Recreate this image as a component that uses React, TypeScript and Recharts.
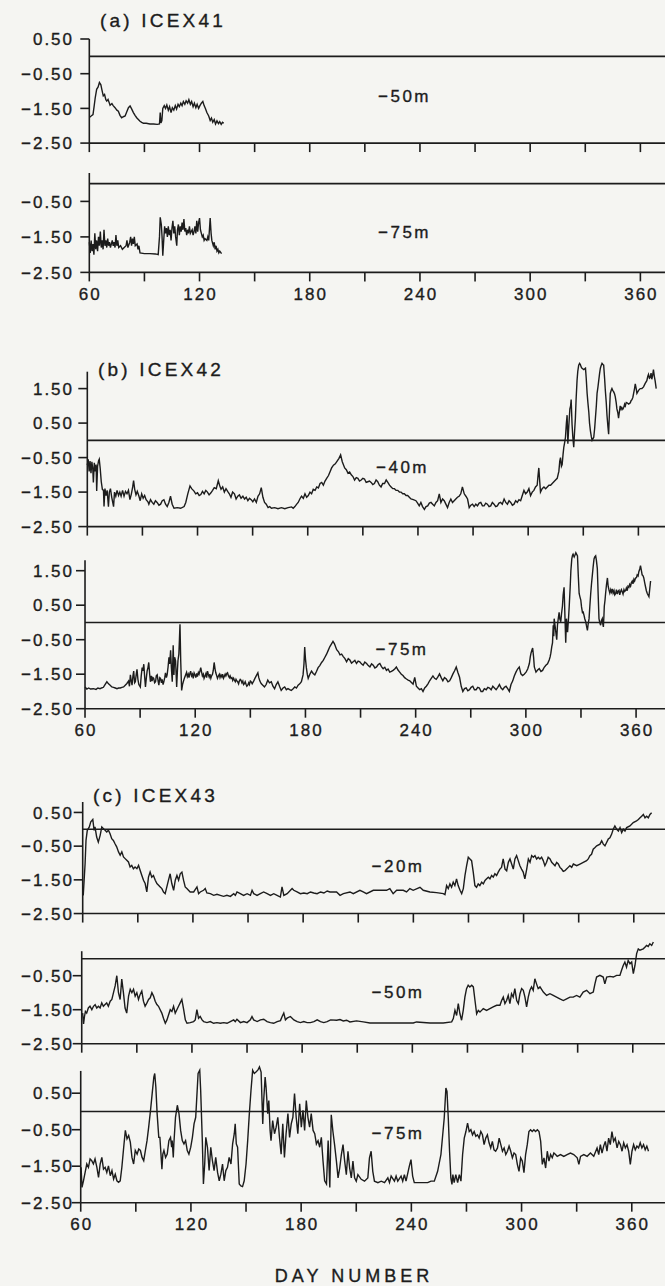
import React from 'react';
import { LineChart, Line, XAxis, YAxis, ReferenceLine } from 'recharts';

const PAGE_W = 665;
const PAGE_H = 1286;
const PAPER = '#f5f5f2';
const INK = '#1c1c1c';
const FONT = '"Liberation Sans", Arial, sans-serif';
const PX_PER_DAY = 1.837;
const Y_MIN = -2.5;
const Y_LABEL_RIGHT = 74;

const dayTicks = [60, 90, 120, 150, 180, 210, 240, 270, 300, 330, 360];
const dayLabels = [60, 120, 180, 240, 300, 360];
const tempTicks = [1.5, 0.5, -0.5, -1.5, -2.5];

// (a) ICEX41, -50m
const icex41_50m: [number, number][] = [
  [60.2, -1.75], [61, -1.72], [62, -1.68], [62.6, -1.45], [63.2, -1.2], [64, -0.95], [64.8, -0.88], [65.5, -0.75],
  [66.3, -0.82], [66.8, -0.95], [67.6, -1.14], [68.3, -1.1], [69, -1.25], [69.5, -1.29], [70.2, -1.24], [71.3, -1.41],
  [72.3, -1.36], [73, -1.42], [74, -1.48], [75, -1.55], [75.8, -1.58], [76.7, -1.7], [77.6, -1.77], [78.5, -1.74],
  [79.5, -1.72], [80.4, -1.6], [81.3, -1.48], [82.2, -1.43], [83.1, -1.52], [84, -1.62], [84.9, -1.7], [85.8, -1.77],
  [86.7, -1.82], [87.6, -1.87], [88.5, -1.9], [89.5, -1.93], [91, -1.93], [93, -1.95], [95, -1.95], [97, -1.96],
  [98.2, -1.95], [98.6, -1.62], [99, -1.92], [99.5, -1.85], [100, -1.5], [100.8, -1.42], [101.5, -1.5], [102.2, -1.4],
  [103, -1.55], [103.7, -1.45], [104.5, -1.62], [105.2, -1.48], [106, -1.55], [106.8, -1.42], [107.5, -1.52],
  [108.3, -1.38], [109, -1.45], [109.8, -1.35], [110.5, -1.42], [111.2, -1.3], [112, -1.38], [112.7, -1.28],
  [113.5, -1.35], [114.2, -1.25], [115, -1.38], [115.7, -1.3], [116.5, -1.45], [117.2, -1.35], [118, -1.48],
  [118.7, -1.38], [119.5, -1.5], [120.2, -1.42], [121, -1.35], [121.8, -1.3], [122.5, -1.42], [123.2, -1.5],
  [124, -1.62], [125, -1.72], [125.8, -1.85], [126.5, -1.78], [127.2, -1.9], [128, -1.82], [128.7, -1.95],
  [129.5, -1.86], [130.3, -1.94], [131, -1.88], [131.8, -1.96], [132.5, -1.9], [133.2, -1.93],
];

// (a) ICEX41, -75m
const icex41_75m: [number, number][] = [
  [60, -1.65], [60.5, -1.95], [61, -1.6], [61.5, -1.9], [62, -1.7], [62.5, -2.0], [63, -1.4], [63.5, -1.85],
  [64, -1.6], [64.5, -1.9], [65, -1.5], [65.5, -1.75], [66, -1.35], [66.5, -1.8], [67, -1.6], [67.5, -1.85],
  [68, -1.3], [68.5, -1.75], [69, -1.6], [69.5, -1.8], [70, -1.55], [70.5, -1.75], [71, -1.65], [71.5, -1.8],
  [72, -1.7], [72.5, -1.6], [73, -1.75], [73.5, -1.65], [74, -1.8], [74.5, -1.45], [75, -1.75], [75.5, -1.6],
  [76, -1.8], [77, -1.75], [78, -1.85], [79, -1.8], [80, -1.75], [80.5, -1.6], [81, -1.8], [82, -1.65],
  [82.5, -1.5], [83, -1.75], [83.5, -1.55], [84, -1.7], [84.5, -1.5], [85, -1.75], [86, -1.7], [86.5, -1.85],
  [87, -1.75], [87.6, -1.95], [90, -1.97], [93, -1.97], [96, -1.98], [97.5, -2.0], [98.2, -1.5], [98.6, -0.95],
  [99.2, -1.15], [99.6, -1.5], [100, -2.03], [100.5, -1.6], [101, -1.2], [101.5, -1.4], [102, -1.25], [102.5, -1.5],
  [103, -1.2], [103.5, -1.45], [104, -1.3], [104.5, -1.6], [105, -1.25], [105.5, -1.05], [106, -1.4], [106.5, -1.2],
  [107, -1.5], [107.6, -1.75], [108, -1.3], [108.5, -1.15], [109, -1.45], [109.5, -1.2], [110, -1.35], [110.5, -1.1],
  [111, -1.3], [111.5, -1.0], [112, -1.35], [112.5, -1.25], [113, -1.45], [113.5, -1.3], [114, -1.4], [114.5, -1.2],
  [115, -1.4], [116, -1.3], [116.5, -1.45], [117, -1.35], [117.5, -1.2], [118, -1.4], [118.5, -1.05], [119, -1.35],
  [119.5, -1.1], [120, -0.97], [120.5, -1.3], [121, -1.4], [121.5, -1.5], [122, -1.45], [122.5, -1.6], [123, -1.55],
  [124, -1.6], [124.5, -1.5], [125, -1.6], [125.8, -0.97], [126.3, -1.4], [126.7, -1.6], [127.5, -1.75], [128, -1.65],
  [128.5, -1.85], [129, -1.75], [129.5, -1.9], [130, -1.85], [130.5, -1.95], [131, -1.9], [132, -1.97],
];

// (b) ICEX42, -40m
const icex42_40m: [number, number][] = [
  [60, -0.72], [60.5, -0.55], [61, -0.9], [61.5, -0.6], [62, -0.95], [62.5, -0.62], [63, -0.85], [63.3, -1.22],
  [63.8, -0.65], [64.3, -0.9], [64.8, -0.7], [65.1, -1.47], [65.6, -0.75], [66.1, -0.6], [66.5, -0.55], [67, -0.8],
  [67.6, -1.2], [68.2, -1.42], [68.8, -1.45], [69.1, -1.92], [69.6, -1.4], [70.2, -1.6], [70.8, -1.45], [71.5, -1.92],
  [72, -1.5], [72.6, -1.4], [73.3, -1.65], [74.3, -1.92], [74.8, -1.5], [75.5, -1.62], [76.2, -1.45], [77, -1.6],
  [77.7, -1.5], [78.4, -1.62], [79.2, -1.45], [80, -1.62], [80.8, -1.48], [81.6, -1.55], [82.4, -1.45], [83.2, -1.72],
  [84, -1.55], [84.7, -1.35], [85.2, -1.17], [85.8, -1.42], [86.5, -1.58], [87.2, -1.48], [88, -1.6], [88.8, -1.75],
  [89.6, -1.55], [90.4, -1.68], [91.2, -1.6], [92, -1.72], [93, -1.78], [93.5, -1.85], [94.4, -1.72], [95.3, -1.8],
  [96.2, -1.85], [97.1, -1.75], [98, -1.8], [99, -1.88], [99.9, -1.85], [100.8, -1.75], [101.7, -1.72], [102.6, -1.85],
  [103.5, -1.92], [104.4, -1.8], [105.3, -1.62], [106.2, -1.85], [107.2, -1.97], [109, -1.95], [110.8, -1.97],
  [112.7, -1.92], [113.6, -1.8], [114.7, -1.55], [115.9, -1.32], [116.8, -1.4], [118.1, -1.47], [119, -1.55],
  [120, -1.52], [120.9, -1.6], [121.8, -1.57], [122.7, -1.48], [123.6, -1.55], [124.5, -1.45], [125.4, -1.5],
  [126.3, -1.58], [127.3, -1.52], [128.2, -1.45], [129.1, -1.37], [130.2, -1.4], [131.3, -1.17], [132, -1.3],
  [132.8, -1.42], [133.7, -1.35], [134.6, -1.5], [135.5, -1.4], [136.4, -1.48], [137.3, -1.55], [138.2, -1.65],
  [139.1, -1.5], [140.1, -1.55], [141, -1.7], [141.9, -1.62], [142.8, -1.58], [143.7, -1.68], [144.7, -1.62],
  [145.6, -1.7], [146.5, -1.65], [147.4, -1.75], [148.3, -1.68], [149.2, -1.72], [150.1, -1.78], [151, -1.7],
  [152, -1.8], [152.9, -1.62], [153.8, -1.55], [154.7, -1.37], [155.6, -1.65], [156.5, -1.8], [157.4, -1.85],
  [158.4, -1.95], [159.3, -1.92], [160.2, -1.97], [162, -1.95], [163.8, -1.98], [165.7, -1.95], [167.5, -1.98],
  [169.3, -1.95], [171.2, -1.93], [172.1, -1.97], [173, -1.92], [174, -1.85], [174.8, -1.8], [175.7, -1.7],
  [176.6, -1.62], [177.6, -1.68], [178.5, -1.55], [179.4, -1.65], [180.3, -1.6], [181.2, -1.5], [182.1, -1.55],
  [183, -1.42], [184, -1.45], [184.9, -1.35], [185.8, -1.38], [186.7, -1.25], [187.6, -1.22], [188.5, -1.3],
  [189.4, -1.18], [190.3, -1.1], [191.3, -1.02], [192.2, -0.9], [193, -0.8], [194, -0.72], [195, -0.68], [196, -0.6],
  [197, -0.52], [197.9, -0.42], [198.8, -0.62], [200.1, -0.8], [201, -0.85], [201.9, -0.95], [202.8, -0.92],
  [203.7, -1.0], [204.6, -1.05], [205.5, -1.15], [206.4, -1.08], [207.3, -1.1], [208.2, -1.18], [209.1, -1.15],
  [210, -1.1], [210.9, -1.12], [211.8, -1.22], [212.7, -1.2], [213.6, -1.18], [214.5, -1.22], [215.4, -1.28],
  [216.3, -1.25], [217.2, -1.15], [218.1, -1.2], [219, -1.3], [219.9, -1.35], [220.8, -1.25], [221.8, -1.25],
  [222.7, -1.15], [223.6, -1.22], [224.5, -1.3], [225.4, -1.35], [226.3, -1.4], [227.2, -1.4], [228.1, -1.45],
  [229, -1.45], [229.9, -1.5], [230.8, -1.5], [231.7, -1.55], [232.6, -1.55], [233.5, -1.6], [234.4, -1.6],
  [235.3, -1.65], [236.2, -1.7], [237.5, -1.72], [238.9, -1.75], [239.8, -1.82], [240.7, -1.9], [241.6, -1.8],
  [242.5, -1.92], [243.5, -2.0], [244.4, -1.92], [245.3, -1.9], [246.2, -1.82], [247.1, -1.8], [248, -1.85],
  [248.9, -1.9], [249.8, -1.8], [250.7, -1.75], [251.6, -1.55], [252.5, -1.8], [253.4, -1.7], [254.3, -1.75],
  [255.2, -1.85], [256.1, -1.95], [257, -1.8], [257.9, -1.7], [258.8, -1.8], [259.7, -1.75], [260.6, -1.7],
  [261.5, -1.65], [262.4, -1.62], [263.3, -1.55], [264.2, -1.35], [265.2, -1.55], [266.1, -1.62], [267, -1.7],
  [267.9, -1.95], [268.8, -1.88], [269.7, -1.85], [270.6, -1.92], [271.5, -1.85], [272.4, -1.9], [273.3, -1.82],
  [274.2, -1.8], [275.1, -1.9], [276, -1.9], [276.9, -1.82], [277.8, -1.85], [278.7, -1.92], [279.6, -1.9],
  [280.5, -1.8], [281.4, -1.85], [282.3, -1.92], [283.2, -1.9], [284.1, -1.82], [285, -1.8], [285.9, -1.85],
  [286.9, -1.7], [287.8, -1.8], [288.7, -1.85], [289.6, -1.75], [290.5, -1.8], [291.4, -1.88], [292.3, -1.85],
  [293.2, -1.75], [294.1, -1.8], [295, -1.72], [295.9, -1.75], [296.8, -1.6], [297.7, -1.45], [298.6, -1.55],
  [299.5, -1.5], [300.4, -1.4], [301.3, -1.6], [302.2, -1.5], [303.1, -1.45], [304, -1.35], [304.9, -1.3],
  [305.4, -1.0], [305.8, -0.8], [306.3, -1.2], [306.7, -1.5], [307.6, -1.4], [308.6, -1.35], [309.5, -1.4],
  [310.4, -1.35], [311.3, -1.3], [312.2, -1.3], [313.1, -1.25], [314, -1.2], [314.9, -1.15], [315.8, -1.1],
  [316.7, -0.9], [317.2, -0.6], [317.6, -0.5], [318.1, -0.75], [318.5, -0.7], [319, -0.4], [319.4, -0.2],
  [319.9, -0.05], [320.3, 0.09], [320.8, 0.5], [321.2, 0.73], [321.6, -0.1], [322.1, 0.4], [322.7, 0.91],
  [323.1, 1.0], [323.4, 1.18], [323.9, 0.45], [324.3, 0.1], [324.8, -0.2], [325.2, 0.2], [325.7, 0.64],
  [326.1, 1.2], [326.6, 1.73], [327, 2.0], [327.5, 2.18], [328, 2.23], [328.4, 2.2], [328.9, 2.12], [329.3, 2.09],
  [330.3, 2.05], [331.2, 2.09], [331.6, 1.8], [332.1, 1.36], [332.5, 1.1], [333, 0.82], [333.4, 0.5], [333.9, 0.27],
  [334.4, 0.1], [334.8, 0.0], [335.3, 0.05], [335.7, 0.09], [336.2, 0.35], [336.6, 0.64], [337.1, 1.0],
  [337.5, 1.36], [338, 1.55], [338.4, 1.73], [338.9, 1.95], [339.3, 2.09], [339.8, 2.18], [340.2, 2.23],
  [340.7, 2.2], [341.1, 2.18], [341.6, 1.8], [342, 1.45], [342.5, 1.1], [342.9, 0.73], [343.4, 0.4], [343.8, 0.18],
  [344.3, 0.9], [344.7, 1.36], [345.2, 1.45], [345.6, 1.5], [346, 1.45], [346.5, 1.41], [347, 1.35], [347.4, 1.27],
  [347.9, 1.1], [348.3, 0.91], [348.8, 0.8], [349.2, 0.64], [349.7, 0.85], [350.1, 1.0], [350.6, 0.9], [351, 0.95],
  [351.5, 0.9], [352, 0.95], [352.5, 1.05], [352.9, 1.0], [353.4, 1.1], [353.8, 1.09], [354.7, 1.05], [355.6, 1.09],
  [356, 1.15], [356.5, 1.18], [357, 1.25], [357.4, 1.36], [357.9, 1.5], [358.3, 1.64], [358.8, 1.5], [359.2, 1.36],
  [360.1, 1.45], [361, 1.5], [361.9, 1.5], [362.8, 1.55], [363.7, 1.65], [364.6, 1.73], [365.1, 1.85], [365.5, 1.91],
  [366, 1.8], [366.4, 1.82], [366.9, 1.95], [367.3, 1.77], [367.8, 1.9], [368.2, 2.05], [368.7, 1.85], [369.1, 1.73],
  [369.7, 1.5],
];

// (b) ICEX42, -75m
const icex42_75m: [number, number][] = [
  [60, -1.87], [61, -1.93], [62, -1.9], [63, -1.93], [64.6, -1.92], [66, -1.94], [67, -1.9], [68.2, -1.92],
  [69, -1.9], [70, -1.88], [70.9, -1.8], [71.9, -1.72], [72.8, -1.78], [73.7, -1.82], [74.6, -1.87], [75.5, -1.88],
  [76.5, -1.9], [77.4, -1.92], [78.3, -1.9], [79.2, -1.9], [80.1, -1.88], [81, -1.87], [81.9, -1.82], [82.8, -1.77],
  [83.7, -1.7], [84.2, -1.85], [84.7, -1.52], [85.2, -1.7], [85.6, -1.82], [86.1, -1.55], [86.5, -1.41], [87, -1.75],
  [87.4, -1.72], [87.9, -1.5], [88.3, -1.36], [88.8, -1.65], [89.3, -1.8], [90.1, -1.87], [90.6, -1.55], [91.1, -1.31],
  [91.5, -1.4], [92, -1.21], [92.5, -1.6], [92.9, -1.87], [93.4, -1.6], [93.8, -1.41], [94.3, -1.3], [94.7, -1.16],
  [95.2, -1.5], [95.6, -1.72], [96.1, -1.55], [96.5, -1.7], [97, -1.6], [97.4, -1.62], [97.9, -1.75], [98.4, -1.72],
  [98.8, -1.55], [99.3, -1.52], [99.8, -1.7], [100.2, -1.82], [100.7, -1.6], [101.1, -1.62], [101.6, -1.75],
  [102, -1.65], [102.5, -1.8], [102.9, -1.72], [103.4, -1.6], [103.8, -1.46], [104.3, -1.6], [104.7, -1.52],
  [105.2, -1.3], [105.7, -1.01], [106.1, -1.2], [106.6, -0.81], [107, -1.3], [107.5, -1.72], [108, -0.66],
  [108.4, -1.52], [108.8, -1.01], [109.3, -1.11], [109.9, -1.87], [110.3, -1.4], [110.6, -1.11], [111.1, -0.91],
  [111.4, -0.5], [111.7, -0.05], [112.1, -1.11], [112.6, -1.97], [113.1, -1.8], [113.5, -1.72], [114.2, -1.6],
  [114.8, -1.52], [115.3, -1.45], [115.7, -1.57], [116.2, -1.5], [116.6, -1.6], [117.1, -1.48], [117.5, -1.41],
  [118, -1.55], [118.5, -1.5], [118.9, -1.62], [119.4, -1.46], [119.9, -1.52], [120.3, -1.6], [120.8, -1.48],
  [121.2, -1.57], [121.7, -1.45], [122.1, -1.5], [122.6, -1.4], [123, -1.31], [123.5, -1.45], [123.9, -1.55],
  [124.4, -1.5], [124.8, -1.62], [125.3, -1.55], [125.8, -1.48], [126.2, -1.6], [126.7, -1.41], [127.1, -1.5],
  [127.6, -1.58], [128, -1.5], [128.5, -1.62], [128.9, -1.55], [129.4, -1.5], [129.8, -1.4], [130.3, -1.16],
  [130.8, -1.35], [131.2, -1.46], [131.7, -1.55], [132.1, -1.62], [132.6, -1.55], [133.1, -1.5], [133.5, -1.6],
  [134, -1.52], [134.5, -1.58], [134.9, -1.5], [135.4, -1.62], [135.8, -1.57], [136.3, -1.5], [136.7, -1.55],
  [137.2, -1.48], [137.6, -1.46], [138.1, -1.55], [138.6, -1.6], [139, -1.55], [139.5, -1.62], [140, -1.6],
  [140.4, -1.68], [140.9, -1.62], [141.3, -1.67], [141.8, -1.72], [142.2, -1.65], [142.7, -1.7], [143.1, -1.72],
  [143.6, -1.78], [144, -1.7], [144.5, -1.65], [144.9, -1.67], [145.4, -1.75], [145.9, -1.7], [146.3, -1.8],
  [146.8, -1.77], [147.2, -1.72], [147.7, -1.8], [148.1, -1.85], [148.6, -1.82], [149.1, -1.75], [149.5, -1.8],
  [150, -1.7], [150.4, -1.72], [151, -1.78], [151.8, -1.7], [152.5, -1.62], [153.2, -1.55], [154.1, -1.46],
  [154.6, -1.6], [155.2, -1.7], [155.9, -1.77], [156.8, -1.82], [157.7, -1.87], [158.6, -1.8], [159.5, -1.67],
  [160.4, -1.75], [161.4, -1.72], [162.3, -1.85], [163.2, -1.92], [164.1, -1.8], [165, -1.72], [165.9, -1.85],
  [166.8, -1.97], [167.8, -1.9], [168.7, -1.87], [169.6, -1.95], [170.5, -1.92], [171.4, -1.95], [172.3, -1.97],
  [173.3, -1.92], [174.2, -1.87], [175.1, -1.9], [176, -1.82], [176.9, -1.78], [177.8, -1.72], [178.7, -1.52],
  [179.2, -1.2], [179.6, -0.71], [180, -1.05], [180.5, -1.31], [181, -1.5], [181.5, -1.62], [182.4, -1.5],
  [183.3, -1.41], [184.2, -1.48], [185.1, -1.52], [186, -1.42], [186.9, -1.31], [187.8, -1.25], [188.8, -1.16],
  [189.7, -1.1], [190.6, -1.01], [191.5, -0.92], [192.4, -0.81], [193.3, -0.7], [194.2, -0.62], [195, -0.55],
  [195.8, -0.62], [197, -0.79], [198, -0.85], [198.8, -0.94], [199.7, -0.92], [200.6, -0.99], [201.5, -1.05],
  [202.4, -1.14], [203.3, -1.05], [204.2, -1.09], [205.1, -1.18], [206, -1.14], [206.9, -1.1], [207.8, -1.19],
  [208.7, -1.12], [209.6, -1.14], [210.5, -1.2], [211.4, -1.24], [212.3, -1.15], [213.3, -1.19], [214.2, -1.25],
  [215.1, -1.29], [216, -1.2], [216.9, -1.24], [217.8, -1.32], [218.7, -1.29], [219.6, -1.22], [220.5, -1.19],
  [221.4, -1.28], [222.3, -1.34], [223.2, -1.3], [224.1, -1.39], [225, -1.35], [225.9, -1.44], [226.8, -1.42],
  [227.7, -1.39], [228.6, -1.35], [229.5, -1.29], [230.4, -1.38], [231.3, -1.44], [232.2, -1.5], [233.1, -1.54],
  [234, -1.6], [235, -1.64], [235.9, -1.67], [236.8, -1.69], [237.7, -1.74], [238.6, -1.79], [239.5, -1.59],
  [240.4, -1.85], [241.3, -1.9], [242.2, -1.95], [243.1, -1.92], [244, -2.0], [244.9, -1.9], [245.8, -1.85],
  [246.7, -1.78], [247.6, -1.69], [248.5, -1.62], [249.4, -1.55], [250.3, -1.62], [251.2, -1.65], [252.1, -1.58],
  [253, -1.49], [253.9, -1.6], [254.8, -1.69], [255.7, -1.6], [256.7, -1.64], [257.6, -1.72], [258.5, -1.69],
  [259.4, -1.6], [260.3, -1.49], [261.2, -1.4], [262.1, -1.29], [263, -1.45], [263.9, -1.59], [264.8, -1.85],
  [265.7, -2.0], [266.6, -1.92], [267.5, -1.9], [268.4, -1.98], [269.3, -1.95], [270.2, -1.88], [271.1, -1.85],
  [272, -1.95], [272.9, -1.95], [273.8, -1.88], [274.7, -1.9], [275.6, -2.0], [276.5, -2.0], [277.4, -1.92],
  [278.4, -1.95], [279.3, -1.88], [280.2, -1.9], [281.1, -1.95], [282, -1.85], [282.9, -1.9], [283.8, -1.95],
  [284.7, -1.88], [285.6, -1.8], [286.5, -1.9], [287.4, -1.95], [288.3, -1.88], [289.2, -1.85], [290.1, -1.92],
  [291, -2.0], [291.9, -1.8], [292.8, -1.7], [293.7, -1.55], [294.6, -1.44], [295.5, -1.35], [296.4, -1.29],
  [297.3, -1.49], [298.2, -1.54], [299.1, -1.5], [300.1, -1.44], [301, -1.35], [301.9, -1.19], [302.4, -1.0],
  [302.8, -0.89], [303.3, -0.8], [303.7, -0.74], [304.2, -1.0], [304.6, -1.29], [305.5, -1.44], [306.4, -1.38],
  [307.3, -1.34], [308.2, -1.42], [309.1, -1.39], [310, -1.3], [310.9, -1.24], [311.8, -1.2], [312.7, -1.09],
  [313.2, -1.0], [313.6, -0.89], [314.1, -0.7], [314.5, -0.59], [314.9, -0.08], [315.2, -0.4], [315.4, 0.11],
  [315.9, -0.1], [316.3, -0.28], [316.8, -0.5], [317.2, -0.08], [317.6, 0.1], [318.1, 0.29], [318.5, 0.1],
  [319, 0.02], [319.4, 0.25], [319.9, 0.47], [320.3, 0.8], [320.8, 1.02], [321.2, 0.3], [321.7, -0.59],
  [322.1, 0.11], [322.4, -0.1], [322.7, -0.28], [323.2, 0.1], [323.6, 0.47], [324.1, 1.0], [324.5, 1.5],
  [325, 1.84], [325.4, 1.95], [325.7, 1.98], [326.3, 1.9], [326.7, 1.95], [327.2, 2.02], [327.6, 1.98],
  [328.1, 1.93], [328.5, 1.4], [329, 0.84], [329.4, 0.75], [329.9, 0.65], [330.3, 0.45], [330.8, 0.29],
  [331.2, 0.3], [331.7, 0.2], [332.1, 0.1], [332.6, 0.02], [333, -0.1], [333.5, -0.23], [333.9, -0.05],
  [334.4, 0.11], [334.8, 0.45], [335.3, 0.84], [335.7, 1.1], [336.2, 1.38], [336.6, 1.6], [337.1, 1.84],
  [337.5, 1.9], [338, 1.93], [338.4, 1.8], [338.9, 1.56], [339.3, 0.9], [339.8, 0.11], [340.2, 0.0],
  [340.7, -0.08], [341.1, 0.05], [341.6, 0.11], [341.9, -0.05], [342.2, -0.13], [342.5, 0.2], [342.7, 0.47],
  [343.1, 0.65], [343.4, 0.84], [343.9, 1.1], [344.4, 1.29], [344.8, 1.05], [345.3, 0.93], [345.7, 0.85],
  [346.2, 0.95], [346.6, 0.88], [347.1, 0.97], [347.5, 0.85], [348, 0.92], [348.4, 0.8], [348.9, 0.84],
  [349.3, 0.95], [349.8, 0.82], [350.2, 0.9], [350.7, 0.93], [351.1, 0.8], [351.6, 0.9], [352, 0.95],
  [352.5, 0.88], [352.9, 0.82], [353.4, 0.95], [353.8, 0.9], [354.3, 0.93], [354.7, 1.0], [355.2, 0.92],
  [355.6, 1.05], [356.1, 1.02], [356.5, 1.1], [357, 1.05], [357.4, 1.15], [357.9, 1.2], [358.3, 1.12],
  [358.8, 1.25], [359.2, 1.2], [359.7, 1.29], [360.2, 1.3], [360.6, 1.38], [361.1, 1.35], [361.5, 1.47],
  [362, 1.55], [362.4, 1.65], [362.9, 1.5], [363.3, 1.38], [363.8, 1.35], [364.2, 1.29], [364.7, 1.15],
  [365.2, 1.02], [365.6, 0.92], [366.1, 0.84], [366.5, 0.8], [367, 0.75], [367.4, 0.95], [367.9, 1.2],
];

// (c) ICEX43, -20m
const icex43_20m: [number, number][] = [
  [60.3, -1.96], [61.3, -1.02], [61.8, -0.33], [62.5, -0.03], [63.6, 0.07], [64.4, 0.22], [65.5, 0.29],
  [66.2, -0.03], [66.7, 0.07], [67.6, -0.23], [68.5, -0.38], [69.5, -0.18], [70.4, 0.07], [71.3, 0.02],
  [72.2, -0.03], [73.1, -0.08], [74, -0.03], [74.9, -0.13], [75.8, -0.28], [76.7, -0.33], [77.6, -0.43],
  [78.5, -0.52], [79.5, -0.67], [80.4, -0.77], [81.3, -0.67], [82.2, -0.82], [83.1, -0.87], [84, -0.92],
  [84.9, -0.97], [85.8, -1.12], [86.7, -1.07], [87.6, -1.17], [88.5, -1.12], [89.5, -1.17], [90.4, -1.07],
  [91.3, -1.22], [92.2, -1.37], [93.1, -1.51], [94, -1.61], [94.9, -1.86], [95.8, -1.42], [96.7, -1.27],
  [97.6, -1.42], [98.5, -1.37], [99.5, -1.51], [100.4, -1.61], [101.3, -1.66], [102.2, -1.71], [103.1, -1.76],
  [104, -1.86], [104.9, -1.91], [105.8, -1.71], [106.7, -1.51], [107.6, -1.32], [108.5, -1.61], [109.5, -1.81],
  [110.4, -1.51], [111.3, -1.37], [112.2, -1.51], [113.1, -1.32], [114, -1.27], [114.9, -1.51], [115.8, -1.71],
  [116.7, -1.76], [117.6, -1.81], [118.5, -1.86], [120.4, -1.86], [122.2, -1.71], [123.1, -1.91], [124, -1.86],
  [125.8, -1.81], [126.7, -1.76], [127.6, -1.89], [129.5, -1.91], [131.3, -1.96], [133.1, -1.93], [134.9, -1.96],
  [136.7, -1.99], [138.5, -1.96], [140.4, -1.99], [142.2, -1.91], [143.1, -1.96], [144, -1.86], [145.8, -1.91],
  [147.6, -1.96], [149.5, -1.91], [151.3, -1.96], [152.2, -1.81], [153.1, -1.91], [154.9, -1.96], [156.7, -1.91],
  [158.5, -1.86], [160.4, -1.91], [162.2, -1.96], [164, -1.91], [165.8, -1.96], [167.6, -2.01], [168.5, -1.71],
  [169.5, -1.96], [171.3, -1.91], [173.1, -1.81], [174, -1.76], [174.9, -1.81], [176.7, -1.86], [178.5, -1.91],
  [180.4, -1.89], [182.2, -1.91], [184, -1.86], [185.8, -1.89], [187.6, -1.91], [189.5, -1.86], [191.3, -1.89],
  [193.1, -1.83], [194.6, -1.86], [198.2, -1.86], [200.1, -1.96], [201.9, -1.91], [205.5, -1.86], [207.3, -1.91],
  [210.9, -1.81], [212.7, -1.86], [214.5, -1.91], [218.2, -1.81], [221.8, -1.81], [225.4, -1.81], [227.2, -1.76],
  [229, -1.91], [230.9, -1.81], [234.5, -1.81], [236.3, -1.86], [238.1, -1.76], [239.9, -1.81], [243.6, -1.72],
  [245.4, -1.81], [249, -1.86], [252.6, -1.88], [256.3, -1.91], [257.2, -1.94], [258.1, -1.67], [259, -1.76],
  [259.9, -1.62], [260.8, -1.72], [261.7, -1.57], [262.6, -1.67], [263.5, -1.47], [264.4, -1.67], [265.4, -1.81],
  [266.3, -1.91], [267.2, -1.76], [268.1, -1.37], [269, -1.08], [269.9, -0.83], [270.8, -0.88], [271.7, -0.93],
  [272.6, -1.27], [273.5, -1.67], [274.4, -1.72], [275.3, -1.62], [276.2, -1.67], [277.2, -1.57], [278.1, -1.62],
  [279, -1.52], [279.9, -1.47], [280.8, -1.42], [281.7, -1.47], [282.6, -1.37], [283.5, -1.42], [284.4, -1.32],
  [285.3, -1.37], [286.2, -1.27], [287.1, -1.18], [288, -1.13], [288.9, -0.88], [289.9, -1.18], [290.8, -1.23],
  [291.7, -0.98], [292.6, -0.88], [293.5, -1.03], [294.4, -1.18], [295.3, -0.88], [296.2, -0.78], [297.1, -0.93],
  [298, -1.08], [298.9, -1.18], [299.8, -1.27], [300.7, -1.47], [301.7, -1.18], [302.6, -0.88], [303.5, -0.98],
  [304.4, -0.78], [305.3, -0.83], [306.2, -0.78], [307.1, -0.88], [308, -0.83], [308.9, -0.88], [309.8, -0.83],
  [310.7, -0.93], [311.6, -1.08], [312.5, -0.98], [313.4, -0.83], [314.4, -0.88], [315.3, -0.98], [316.2, -1.03],
  [317.1, -1.08], [318, -0.98], [318.9, -1.03], [319.8, -1.13], [320.7, -1.18], [321.6, -1.25], [322.5, -1.23],
  [323.4, -1.18], [324.3, -1.13], [325.2, -1.08], [326.2, -1.13], [327.1, -1.03], [328.9, -1.08], [330.7, -1.03],
  [332.5, -0.98], [334.3, -0.93], [335.2, -0.88], [336.1, -0.78], [337, -0.74], [337.9, -0.59], [338.9, -0.54],
  [339.8, -0.49], [341.6, -0.44], [342.5, -0.34], [343.4, -0.44], [344.3, -0.49], [345.2, -0.39], [346.1, -0.29],
  [347, -0.25], [347.9, -0.15], [348.8, 0.0], [349.7, 0.1], [350.7, 0.0], [351.6, -0.05], [352.5, 0.05],
  [353.4, -0.1], [354.3, 0.0], [355.2, -0.05], [356.1, 0.05], [357.9, 0.1], [359.7, 0.2], [361.5, 0.25],
  [362.5, 0.29], [363.4, 0.34], [364.3, 0.39], [365.2, 0.44], [366.1, 0.34], [367, 0.39], [367.9, 0.34],
  [368.8, 0.44], [369.7, 0.49],
];

// (c) ICEX43, -50m
const icex43_50m: [number, number][] = [
  [60.5, -1.6], [61, -1.92], [61.5, -1.7], [62, -1.55], [62.7, -1.6], [63.6, -1.45], [64.5, -1.4], [65.5, -1.5],
  [66.4, -1.4], [67.3, -1.35], [68.2, -1.45], [69.1, -1.4], [70, -1.45], [70.9, -1.3], [71.8, -1.4], [72.7, -1.35],
  [73.6, -1.3], [74.5, -1.4], [75.5, -1.25], [76.4, -1.2], [77.3, -1.0], [78.2, -0.8], [79.1, -0.5], [80, -1.0],
  [80.9, -1.2], [81.8, -0.6], [82.7, -1.0], [83.6, -1.45], [84.5, -1.6], [85.5, -1.1], [86.4, -0.9], [87.3, -1.0],
  [88.2, -0.9], [89.1, -1.1], [90, -1.0], [90.9, -1.2], [91.8, -1.05], [92.7, -0.95], [93.6, -1.25], [94.5, -1.4],
  [95.5, -1.3], [96.4, -1.2], [97.3, -1.15], [98.2, -1.0], [99.1, -1.1], [100, -1.25], [100.9, -1.35], [101.8, -1.4],
  [102.7, -1.5], [103.6, -1.6], [104.5, -1.75], [105.5, -1.9], [106.4, -1.8], [107.3, -1.65], [108.2, -1.5],
  [109.1, -1.55], [110, -1.4], [110.9, -1.6], [111.8, -1.5], [112.7, -1.4], [113.6, -1.3], [114.5, -1.2],
  [115.5, -1.5], [116.4, -1.8], [117.3, -1.9], [119.1, -1.88], [120.9, -1.85], [121.8, -1.8], [122.7, -1.5],
  [123.6, -1.75], [124.5, -1.7], [125.5, -1.8], [126.4, -1.85], [128.2, -1.88], [130, -1.85], [131.8, -1.9],
  [133.6, -1.88], [135.5, -1.9], [137.3, -1.88], [139.1, -1.9], [140.9, -1.85], [142.7, -1.8], [143.6, -1.85],
  [144.5, -1.78], [146.4, -1.88], [148.2, -1.85], [150, -1.88], [151.8, -1.8], [152.7, -1.7], [153.6, -1.8],
  [155.5, -1.85], [157.3, -1.8], [159.1, -1.78], [160.9, -1.85], [162.7, -1.88], [164.5, -1.9], [166.4, -1.85],
  [168.2, -1.82], [169.1, -1.7], [170, -1.6], [170.9, -1.8], [171.8, -1.75], [173.6, -1.7], [175.5, -1.8],
  [177.3, -1.85], [179.1, -1.88], [180.9, -1.85], [182.7, -1.88], [184.5, -1.88], [186.4, -1.85], [188.2, -1.8],
  [190, -1.85], [191.8, -1.88], [193.6, -1.85], [195.5, -1.8], [198.8, -1.81], [200.6, -1.79], [202.4, -1.83],
  [204.2, -1.81], [206, -1.86], [209.6, -1.83], [213.3, -1.86], [216.9, -1.89], [222.3, -1.89], [231.4, -1.89],
  [240.5, -1.89], [242.3, -1.86], [249.6, -1.89], [256.8, -1.89], [261.4, -1.86], [262.3, -1.76], [263.2, -1.52],
  [264.1, -1.67], [265, -1.32], [265.9, -1.62], [266.8, -1.81], [267.7, -1.52], [268.6, -1.13], [269.5, -0.88],
  [270.4, -0.78], [271.3, -0.83], [272.3, -0.78], [273.2, -0.83], [274.1, -1.23], [275, -1.62], [275.9, -1.52],
  [276.8, -1.57], [277.7, -1.52], [278.6, -1.47], [280.4, -1.52], [282.2, -1.47], [284, -1.42], [285.9, -1.37],
  [287.7, -1.37], [288.6, -1.23], [289.5, -1.13], [290.4, -1.32], [291.3, -1.23], [292.2, -1.08], [293.1, -1.32],
  [294, -1.03], [294.9, -1.13], [295.8, -0.88], [296.8, -1.23], [297.7, -1.32], [298.6, -1.03], [299.5, -0.88],
  [300.4, -0.93], [301.3, -1.13], [302.2, -1.42], [303.1, -1.13], [304, -0.93], [304.9, -0.83], [305.8, -0.93],
  [306.7, -0.59], [307.6, -0.74], [308.5, -0.88], [309.5, -0.83], [311.3, -0.98], [313.1, -1.08], [314.9, -1.03],
  [316.7, -1.08], [318.5, -1.13], [320.3, -1.18], [322.2, -1.23], [324, -1.18], [325.8, -1.13], [327.6, -1.13],
  [329.4, -1.08], [331.2, -1.13], [333, -0.98], [334.9, -0.93], [336.7, -1.03], [338.5, -0.98], [339.4, -0.74],
  [340.3, -0.54], [342.1, -0.49], [343.9, -0.54], [344.8, -0.74], [345.8, -0.54], [347.6, -0.52], [349.4, -0.54],
  [351.2, -0.49], [353, -0.49], [353.9, -0.34], [354.8, -0.2], [355.7, -0.1], [356.6, -0.25], [357.5, -0.05],
  [358.5, -0.15], [359.4, -0.1], [360.3, -0.44], [361.2, -0.2], [362.1, 0.15], [363, 0.29], [363.9, 0.25],
  [365.7, 0.29], [366.6, 0.34], [367.5, 0.39], [368.4, 0.36], [369.3, 0.44], [370.3, 0.39], [371.2, 0.49],
];

// (c) ICEX43, -75m
const icex43_75m: [number, number][] = [
  [60.2, -1.53], [60.7, -2.08], [61.5, -1.9], [62.4, -1.67], [63.3, -1.44], [64.2, -1.53], [65.1, -1.3],
  [66, -1.35], [66.9, -1.44], [67.8, -1.3], [68.8, -1.53], [69.7, -1.81], [70.6, -1.44], [71.5, -1.26],
  [72.4, -1.58], [73.3, -1.53], [74.2, -1.67], [75.1, -1.49], [76.1, -1.76], [77, -1.62], [77.9, -1.85],
  [78.8, -1.72], [79.7, -1.9], [80.6, -1.94], [81.5, -1.9], [82.4, -1.53], [83.4, -0.98], [84.3, -0.52],
  [85.2, -0.75], [86.1, -0.66], [87, -0.84], [87.9, -1.26], [88.8, -1.44], [89.7, -1.07], [90.7, -1.17],
  [91.6, -1.03], [92.5, -1.07], [93.4, -1.26], [94.3, -1.35], [95.2, -1.07], [96.1, -0.8], [97, -0.43],
  [98, 0.03], [98.9, 0.49], [99.8, 0.94], [100.3, 1.04], [100.9, 0.67], [101.6, -0.06], [102.5, -0.71],
  [103.1, -0.71], [103.4, -0.94], [104.2, -1.58], [104.7, -1.17], [105.3, -1.07], [106.2, -1.26], [107.1, -1.17],
  [108, -0.8], [108.9, -0.71], [109.5, -0.98], [109.8, -0.8], [110.4, -1.26], [110.7, -0.89], [111.6, -0.16],
  [112.6, 0.17], [113.5, -0.06], [114.4, -0.52], [115.3, -0.8], [116.2, -0.89], [117.1, -0.8], [118, -1.07],
  [118.9, -1.17], [119.9, -0.98], [120.8, -0.71], [121.7, -0.34], [122.6, -0.16], [123.1, 0.3], [123.9, 1.04],
  [124.8, 1.13], [125.3, 0.58], [126.2, -0.8], [126.8, -1.99], [127.5, -1.44], [128.1, -0.71], [129, -0.98],
  [129.9, -1.62], [130.8, -0.98], [131.7, -1.35], [132.6, -1.62], [133.5, -1.26], [134.5, -1.67], [135.4, -1.9],
  [136.3, -1.72], [137.2, -1.44], [138.1, -1.9], [139, -1.62], [139.9, -1.53], [140.8, -1.26], [141.8, -1.44],
  [142.7, -0.89], [143.6, -0.61], [144.1, -0.34], [144.7, -0.89], [145.4, -0.98], [146.3, -1.99], [147.2, -2.04],
  [148.1, -2.06], [149, -1.9], [150, -1.44], [150.9, -0.8], [151.8, -0.06], [152.7, 0.58], [153.6, 1.13],
  [154.5, 1.04], [155.4, 1.08], [156.4, 1.13], [157.3, 1.22], [158.2, 1.08], [159.1, -0.34], [159.6, 0.3],
  [160.4, 0.94], [160.9, 0.67], [161.8, -0.06], [162.4, 0.3], [163.1, -0.52], [163.6, -0.8], [164.5, -0.25],
  [165.5, -0.61], [166.4, -0.43], [167.3, -0.16], [168.2, -0.71], [169.1, -1.17], [170, -0.34], [170.9, -1.26],
  [171.8, -0.61], [172.8, -0.06], [173.7, -0.71], [174.6, -0.34], [175.5, -0.16], [176.4, 0.49], [177.3, -0.16],
  [178.2, -0.61], [179.2, 0.21], [180.1, -0.43], [181, 0.03], [181.9, -0.52], [182.8, 0.3], [183.7, -0.16],
  [184.6, -0.43], [185.5, -0.06], [186.5, -0.52], [187.4, -0.61], [188.3, -0.89], [189.2, -0.8], [190.1, -0.98],
  [191, -0.71], [191.9, -1.35], [192.8, -1.9], [193.8, -1.99], [194.7, -0.8], [195.6, -2.08], [196.4, -0.09],
  [197.3, -0.55], [198.2, -0.91], [199.2, -1.36], [200.1, -1.82], [201, -1.55], [201.9, -1.18], [202.8, -0.91],
  [203.7, -1.36], [204.6, -1.73], [205.5, -1.09], [206.4, -1.55], [207.3, -1.82], [208.2, -1.36], [209.1, -1.82],
  [210, -1.91], [210.9, -1.73], [212.7, -1.86], [214.5, -1.91], [216.3, -1.82], [217.2, -1.27], [218.1, -1.09],
  [219, -1.64], [219.9, -1.91], [221.8, -1.95], [223.6, -1.91], [225.4, -1.95], [227.2, -1.82], [228.1, -1.95],
  [229, -1.77], [230.8, -1.91], [231.7, -1.77], [232.6, -1.91], [234.4, -1.77], [235.3, -1.91], [236.2, -1.73],
  [237.1, -1.91], [238.9, -1.5], [239.8, -1.32], [240.7, -1.77], [241.6, -1.95], [243.5, -1.95], [245.3, -1.95],
  [247.1, -1.95], [248.9, -1.95], [250.7, -1.91], [252.5, -1.91], [254.3, -1.64], [256.1, -1.18], [257.9, -0.18],
  [258.8, 0.64], [259.4, 0.55], [260.1, -0.18], [260.8, -1.09], [261.5, -1.82], [262.1, -2.0], [262.6, -1.73],
  [263.3, -1.95], [264.2, -1.73], [265.2, -1.95], [266.1, -1.73], [267, -1.91], [267.9, -1.18], [268.8, -0.73],
  [269.7, -0.55], [270.6, -0.32], [271.5, -0.55], [272.4, -0.5], [273.3, -0.64], [274.2, -0.55], [275.1, -0.68],
  [276, -0.64], [276.9, -0.73], [277.8, -0.55], [278.7, -0.64], [279.6, -0.91], [280.5, -0.73], [281.4, -0.64],
  [282.3, -0.86], [283.2, -1.0], [284.1, -0.82], [285, -1.05], [285.9, -1.09], [286.9, -1.0], [287.8, -0.73],
  [288.7, -0.91], [289.6, -1.09], [290.5, -1.0], [291.4, -1.18], [292.3, -1.09], [293.2, -0.95], [294.1, -1.09],
  [295, -1.27], [295.9, -1.14], [296.8, -1.18], [297.7, -1.45], [298.6, -1.64], [299.5, -1.27], [300.4, -1.36],
  [301.3, -1.68], [302.2, -1.18], [303.1, -0.91], [304, -0.55], [304.9, -0.5], [305.8, -0.55], [306.7, -0.5],
  [307.6, -0.55], [308.6, -0.5], [309.5, -0.55], [310.4, -0.82], [311.3, -1.45], [312.2, -1.27], [313.1, -1.55],
  [314, -1.09], [314.9, -1.36], [315.8, -1.18], [316.7, -1.27], [317.6, -1.14], [318.5, -1.18], [319.4, -1.23],
  [321.2, -1.18], [323, -1.23], [324.8, -1.18], [326.6, -1.14], [328.4, -1.18], [330.3, -1.27], [331.2, -1.45],
  [332.1, -1.23], [333.9, -1.18], [335.7, -1.23], [337.5, -1.14], [339.3, -1.23], [341.1, -1.0], [342, -1.18],
  [342.9, -0.91], [343.8, -1.14], [344.7, -0.95], [345.6, -0.82], [346.5, -1.09], [347.4, -0.73], [348.3, -0.91],
  [349.2, -0.55], [350.1, -0.82], [351, -0.73], [352, -1.0], [352.9, -0.82], [353.8, -0.91], [354.7, -1.09],
  [355.6, -0.86], [356.5, -1.0], [357.4, -0.91], [358.3, -1.09], [359.2, -1.45], [360.1, -1.09], [361, -0.91],
  [361.9, -1.05], [362.8, -0.95], [363.7, -1.0], [364.6, -0.86], [365.5, -1.0], [366.4, -0.91], [367.3, -1.05],
  [368.2, -0.95], [369.1, -1.09],
];

const titles = [
  { text: '(a) ICEX41', x: 100, y: 27 },
  { text: '(b) ICEX42', x: 98, y: 376 },
  { text: '(c) ICEX43', x: 93, y: 802 },
];

type Panel = {
  id: string;
  series: [number, number][];
  depth: string;
  left: number;
  bottom: number;
  ppu: number;
  axisTop: number;
  top: number;
  labels: boolean;
  depthX: number;
  depthY: number;
};

const panels: Panel[] = [
  { id: 'a50', series: icex41_50m, depth: '\u221250m', left: 89.3, bottom: 143.5, ppu: 34.7, axisTop: 0.5, top: 0.5, labels: false, depthX: 404.5, depthY: 102 },
  { id: 'a75', series: icex41_75m, depth: '\u221275m', left: 89.3, bottom: 272.5, ppu: 35.5, axisTop: 0.3, top: 0.3, labels: true, depthX: 404.5, depthY: 237.5 },
  { id: 'b40', series: icex42_40m, depth: '\u221240m', left: 87.3, bottom: 526.5, ppu: 34.5, axisTop: 1.99, top: 2.3, labels: false, depthX: 402.5, depthY: 472.5 },
  { id: 'b75', series: icex42_75m, depth: '\u221275m', left: 85, bottom: 708.3, ppu: 34.5, axisTop: 1.8, top: 2.1, labels: true, depthX: 402, depthY: 655 },
  { id: 'c20', series: icex43_20m, depth: '\u221220m', left: 82.7, bottom: 913.3, ppu: 33.7, axisTop: 0.81, top: 0.81, labels: false, depthX: 398, depthY: 871.5 },
  { id: 'c50', series: icex43_50m, depth: '\u221250m', left: 81.7, bottom: 1043.3, ppu: 34, axisTop: 0.22, top: 0.55, labels: false, depthX: 398, depthY: 997.5 },
  { id: 'c75', series: icex43_75m, depth: '\u221275m', left: 80.7, bottom: 1202.7, ppu: 36.5, axisTop: 1.11, top: 1.3, labels: true, depthX: 398, depthY: 1139 },
];

const fmtTemp = (v: number) => (v < 0 ? '\u2212' : '') + Math.abs(v).toFixed(2);

const tickText = {
  fill: INK,
  fontSize: 17,
  fontFamily: FONT,
  stroke: INK,
  strokeWidth: 0.35,
  style: { letterSpacing: 2 },
};

const TempTick = (props: any) => {
  const { y, payload } = props;
  return (
    <text x={Y_LABEL_RIGHT} y={y} dy="0.36em" textAnchor="end" {...tickText}>
      {fmtTemp(payload.value)}
    </text>
  );
};

const DayTick = (props: any) => {
  const { x, y, payload } = props;
  if (!dayLabels.includes(payload.value)) return <g />;
  return (
    <text x={x + 1} y={y} dy="0.72em" textAnchor="middle" {...tickText}>
      {payload.value}
    </text>
  );
};

const NoTick = () => <g />;

function PanelChart({ p }: { p: Panel }) {
  const mt = 14;
  const plotH = (p.top - Y_MIN) * p.ppu;
  const xh = p.labels ? 36 : 12;
  const height = mt + plotH + xh;
  const xMax = 60 + (PAGE_W - p.left) / PX_PER_DAY;
  const data = p.series.map(([day, temp]) => ({ day, temp }));
  const yTicks = tempTicks.filter((t) => t <= p.axisTop + 1e-6);

  return (
    <div style={{ position: 'absolute', left: 0, top: p.bottom - plotH - mt }}>
      <LineChart width={PAGE_W} height={height} data={data} margin={{ top: mt, right: 0, bottom: 0, left: 0 }}>
        <XAxis
          dataKey="day"
          type="number"
          domain={[60, xMax]}
          ticks={dayTicks}
          interval={0}
          height={xh}
          tickSize={9}
          tickMargin={6}
          axisLine={{ stroke: INK, strokeWidth: 1.6 }}
          tickLine={{ stroke: INK, strokeWidth: 1.6 }}
          tick={p.labels ? DayTick : NoTick}
        />
        <YAxis
          type="number"
          domain={[Y_MIN, p.top]}
          ticks={yTicks}
          interval={0}
          width={p.left}
          tickSize={9}
          axisLine={false}
          tickLine={{ stroke: INK, strokeWidth: 1.6 }}
          tick={TempTick}
        />
        <ReferenceLine y={0} stroke={INK} strokeWidth={1.6} />
        <ReferenceLine segment={[{ x: 60, y: Y_MIN }, { x: 60, y: p.axisTop }]} stroke={INK} strokeWidth={1.6} />
        <Line dataKey="temp" type="linear" dot={false} stroke={INK} strokeWidth={1.4} isAnimationActive={false} />
      </LineChart>
    </div>
  );
}

export default function App() {
  return (
    <div style={{ position: 'absolute', left: 0, top: 0, width: PAGE_W, height: PAGE_H, background: PAPER, overflow: 'hidden' }}>
      {panels.map((p) => (
        <PanelChart key={p.id} p={p} />
      ))}
      <svg width={PAGE_W} height={PAGE_H} style={{ position: 'absolute', left: 0, top: 0, pointerEvents: 'none' }}>
        {titles.map((t) => (
          <text key={t.text} x={t.x} y={t.y} fill={INK} stroke={INK} strokeWidth={0.35} fontSize={19} fontFamily={FONT} style={{ letterSpacing: 3.2 }}>
            {t.text}
          </text>
        ))}
        {panels.map((p) => (
          <text key={p.id} x={p.depthX} y={p.depthY} textAnchor="middle" {...tickText} style={{ letterSpacing: 2.5 }}>
            {p.depth}
          </text>
        ))}
        <text x={354} y={1281.5} textAnchor="middle" fill={INK} stroke={INK} strokeWidth={0.35} fontSize={18} fontFamily={FONT} style={{ letterSpacing: 4 }}>
          DAY NUMBER
        </text>
      </svg>
    </div>
  );
}
